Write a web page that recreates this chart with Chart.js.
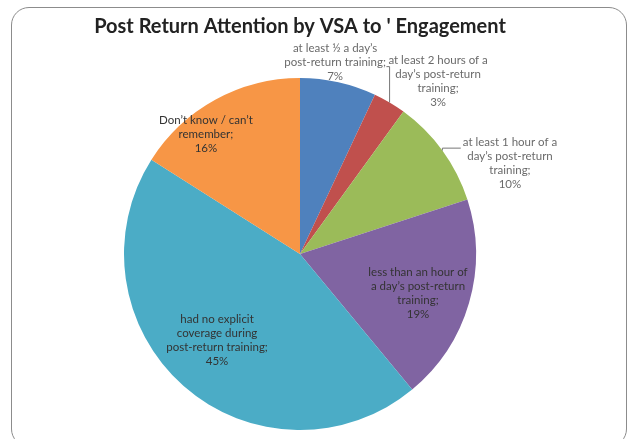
<!DOCTYPE html>
<html>
<head>
<meta charset="utf-8">
<script src="https://cdn.jsdelivr.net/npm/chart.js@4"></script>
<style>
  body { margin: 0; background: #fff; }
  #wrap { position: relative; width: 637px; height: 439px; overflow: hidden; }
  #frame { position: absolute; left: 11px; top: 7px; width: 614px; height: 438px;
           border: 1px solid #8c8c8c; border-radius: 18px; }
  canvas { position: absolute; left: 0; top: 0; }
</style>
</head>
<body>
<div id="wrap">
  <div id="frame"></div>
  <canvas id="chart_pie" width="637" height="439"></canvas>
</div>
<script>
// slice names, one entry per line of the label
var categories = [
    ["at least ½ a day’s", "post-return training"],
    ["at least 2 hours of a", "day’s post-return", "training"],
    ["at least 1 hour of a", "day’s post-return", "training"],
    ["less than an hour of", "a day’s post-return", "training"],
    ["had no explicit", "coverage during", "post-return training"],
    ["Don’t know / can’t", "remember"]
];
var values = [7, 3, 10, 19, 45, 16];
var colors = ["#4f81bd", "#c0504d", "#9bbb59", "#8064a2", "#4bacc6", "#f79646"];

// label placement: distance from centre (x radius), angle nudge (deg), outside or not
var labelPlace = [
    {r: 1.106, shift: -2.2, outside: true,  leader: false},
    {r: 1.255, shift: 8.1,  outside: true,  leader: true},
    {r: 1.30,  shift: 12.6, outside: true,  leader: true},
    {r: 0.707, shift: 2.3,  outside: false, leader: false},
    {r: 0.681, shift: 2.4,  outside: false, leader: false},
    {r: 0.866, shift: -9.3, outside: false, leader: false}
];

var lineH = 14;

var pieLabels = {
    id: 'pieLabels',
    afterDatasetsDraw: function(chart) {
        var ctx = chart.ctx;
        var meta = chart.getDatasetMeta(0);
        var total = values.reduce(function(a, b) { return a + b; }, 0);
        ctx.save();
        ctx.font = "11.5px Lato";
        ctx.textAlign = "center";
        ctx.textBaseline = "middle";
        meta.data.forEach(function(arc, i) {
            var p = arc.getProps(['x', 'y', 'startAngle', 'endAngle', 'outerRadius'], true);
            var place = labelPlace[i];
            var mid = (p.startAngle + p.endAngle) / 2;
            var a = mid + place.shift * Math.PI / 180;
            var cx = p.x + Math.cos(a) * p.outerRadius * place.r;
            var cy = p.y + Math.sin(a) * p.outerRadius * place.r;
            var lines = categories[i].slice();
            lines[lines.length - 1] += ";";
            lines.push(Math.round(values[i] / total * 100) + "%");
            var y0 = cy - (lines.length - 1) * lineH / 2;
            ctx.fillStyle = place.outside ? "#6a6a6a" : "#333333";
            lines.forEach(function(t, k) {
                ctx.fillText(t, cx, y0 + k * lineH);
            });
            if (place.leader) {
                var ex = p.x + Math.cos(mid) * p.outerRadius;
                var ey = p.y + Math.sin(mid) * p.outerRadius;
                var w = ctx.measureText(lines[0]).width;
                var tx = cx - w / 2 - 2;
                var ty = y0 + 6;
                ctx.strokeStyle = "#777777";
                ctx.lineWidth = 1;
                ctx.beginPath();
                ctx.moveTo(ex, ey);
                ctx.lineTo(ex, ty);
                ctx.lineTo(tx, ty);
                ctx.stroke();
            }
        });
        ctx.restore();
    }
};

var ctx = document.getElementById("chart_pie").getContext('2d');
var chart = new Chart(ctx, {
    type: 'pie',
    data: {
        labels: categories,
        datasets: [{data: values, backgroundColor: colors, borderWidth: 0}]
    },
    options: {
        responsive: false,
        animation: false,
        layout: {padding: {left: 0, right: 37, top: 0, bottom: 9}},
        plugins: {
            legend: {display: false},
            tooltip: {enabled: false},
            title: {
                display: true,
                text: "Post Return Attention by VSA to ' Engagement",
                color: "#222222",
                font: {family: "Lato", size: 20, weight: "bold"},
                padding: {top: 15, bottom: 39}
            }
        }
    },
    plugins: [pieLabels]
});
</script>
</body>
</html>
